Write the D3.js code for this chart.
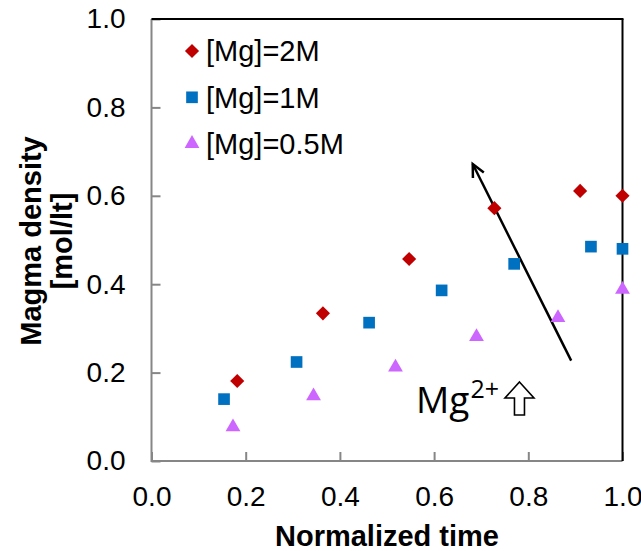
<!DOCTYPE html>
<html>

<head>
    <meta charset="utf-8">
    <style>
        body {
            margin: 0;
            background: #fff;
        }

        svg {
            font-family: Arial, 'Liberation Sans', sans-serif;
        }

        .axis .domain {
            display: none;
        }

        .axis .tick line {
            stroke: #868686;
            stroke-width: 2;
        }

        .axis .tick text {
            font-size: 28px;
            fill: #000;
        }
    </style>
</head>

<body>
    <svg width="641" height="551"></svg>
</body>

<script src="https://d3js.org/d3.v7.min.js"></script>

<script>
    // data
    let tickValues = [0, 0.2, 0.4, 0.6, 0.8, 1.0];

    let seriesNames = ["[Mg]=2M", "[Mg]=1M", "[Mg]=0.5M"];

    let timeMg2 = [0.182, 0.364, 0.547, 0.728, 0.910, 1.0];
    let densMg2 = [0.181, 0.334, 0.457, 0.572, 0.611, 0.600];

    let timeMg1 = [0.154, 0.308, 0.462, 0.616, 0.770, 0.933, 1.0];
    let densMg1 = [0.140, 0.224, 0.313, 0.386, 0.446, 0.485, 0.480];

    let timeMg05 = [0.173, 0.344, 0.518, 0.690, 0.863, 1.0];
    let densMg05 = [0.077, 0.147, 0.212, 0.281, 0.324, 0.388];

    // arrow annotation (in data units)
    let arrowFrom = [0.891, 0.227];
    let arrowTo = [0.682, 0.672];

    let width = 641;
    let height = 551;
    let margin = { top: 19, right: 18.5, bottom: 90, left: 151.5 };

    let svg = d3.select("svg");

    let x = d3.scaleLinear()
        .domain([0, 1])
        .range([margin.left, width - margin.right]);

    let y = d3.scaleLinear()
        .domain([0, 1])
        .range([height - margin.bottom, margin.top]);

    let series = [
        { name: seriesNames[0], xs: timeMg2, ys: densMg2, color: "#C00000", shape: "diamond" },
        { name: seriesNames[1], xs: timeMg1, ys: densMg1, color: "#0070C0", shape: "square" },
        { name: seriesNames[2], xs: timeMg05, ys: densMg05, color: "#CC66FF", shape: "triangle" }
    ];

    function markerPath(shape) {
        if (shape == "diamond") return d3.symbol(d3.symbolSquare, 100)();
        if (shape == "square") return d3.symbol(d3.symbolSquare, 136)();
        return d3.symbol(d3.symbolTriangle, 95)();
    }

    function markerRotate(shape) {
        return shape == "diamond" ? " rotate(45)" : "";
    }

    // axes
    let xAxisSettings = d3.axisBottom(x)
        .tickValues(tickValues)
        .tickSize(-9)
        .tickPadding(25)
        .tickFormat(d3.format(".1f"));

    let yAxisSettings = d3.axisLeft(y)
        .tickValues(tickValues)
        .tickSize(-9)
        .tickPadding(26)
        .tickFormat(d3.format(".1f"));

    svg.append("g")
        .attr("class", "x axis")
        .attr("transform", `translate(0,${height - margin.bottom})`)
        .call(xAxisSettings)
        .selectAll(".tick text")
        .attr("dy", "0.71em");

    svg.append("g")
        .attr("class", "y axis")
        .attr("transform", `translate(${margin.left},0)`)
        .call(yAxisSettings);

    // plot frame: gray left/bottom, black top/right
    svg.append("line")
        .attr("x1", x(0)).attr("x2", x(0))
        .attr("y1", y(0) + 1).attr("y2", y(1))
        .attr("stroke", "#868686").attr("stroke-width", 2);
    svg.append("line")
        .attr("x1", x(0)).attr("x2", x(1))
        .attr("y1", y(0)).attr("y2", y(0))
        .attr("stroke", "#868686").attr("stroke-width", 2);
    svg.append("line")
        .attr("x1", x(0)).attr("x2", x(1) + 1)
        .attr("y1", y(1)).attr("y2", y(1))
        .attr("stroke", "#000").attr("stroke-width", 2);
    svg.append("line")
        .attr("x1", x(1)).attr("x2", x(1))
        .attr("y1", y(1)).attr("y2", y(0))
        .attr("stroke", "#000").attr("stroke-width", 2);

    // arrow
    let arrowHead = 14;
    let ax1 = x(arrowFrom[0]), ay1 = y(arrowFrom[1]);
    let ax2 = x(arrowTo[0]), ay2 = y(arrowTo[1]);
    let ang = Math.atan2(ay2 - ay1, ax2 - ax1);
    svg.append("line")
        .attr("x1", ax1).attr("y1", ay1)
        .attr("x2", ax2).attr("y2", ay2)
        .attr("stroke", "#000").attr("stroke-width", 2.5);
    svg.append("path")
        .attr("d", d3.line()([
            [ax2 - arrowHead * Math.cos(ang - 0.45), ay2 - arrowHead * Math.sin(ang - 0.45)],
            [ax2, ay2],
            [ax2 - arrowHead * Math.cos(ang + 0.45), ay2 - arrowHead * Math.sin(ang + 0.45)]
        ]))
        .attr("fill", "none")
        .attr("stroke", "#000")
        .attr("stroke-width", 2.5);

    // points
    series.forEach(s => {
        svg.append("g")
            .selectAll("path")
            .data(s.xs.map((t, i) => [t, s.ys[i]]))
            .join("path")
            .attr("d", markerPath(s.shape))
            .attr("transform", d => `translate(${x(d[0])},${y(d[1])})` + markerRotate(s.shape))
            .attr("fill", s.color);
    });

    // legend
    let legend = svg.append("g")
        .selectAll("g")
        .data(series)
        .join("g")
        .attr("transform", (d, i) => `translate(192,${51 + i * 46.3})`);

    legend.append("path")
        .attr("d", d => markerPath(d.shape))
        .attr("transform", d => markerRotate(d.shape))
        .attr("fill", d => d.color);

    legend.append("text")
        .attr("x", 14)
        .attr("dy", "0.36em")
        .attr("font-size", "29px")
        .text(d => d.name);

    // Mg2+ label with hollow up arrow
    let mgLabel = svg.append("text")
        .attr("x", 416)
        .attr("y", 413)
        .attr("font-family", "'Open Sans', 'Noto Sans', sans-serif")
        .attr("font-size", "37px");
    mgLabel.append("tspan").text("Mg");
    mgLabel.append("tspan")
        .attr("font-size", "25px")
        .attr("dy", "-15")
        .attr("dx", "1")
        .text("2+");

    let lb = mgLabel.node().getBBox();
    let ux = lb.x + lb.width + 6; // left edge of the hollow arrow
    let uw = 29, uh = 33, stem = 10, headH = 16;
    let utop = 413 - uh + 2;
    svg.append("path")
        .attr("d", d3.line()([
            [ux + uw / 2, utop],
            [ux + uw, utop + headH],
            [ux + uw / 2 + stem / 2, utop + headH],
            [ux + uw / 2 + stem / 2, utop + uh],
            [ux + uw / 2 - stem / 2, utop + uh],
            [ux + uw / 2 - stem / 2, utop + headH],
            [ux, utop + headH]
        ]) + "Z")
        .attr("fill", "#fff")
        .attr("stroke", "#000")
        .attr("stroke-width", 1.6)
        .attr("stroke-linejoin", "miter");

    // axis titles
    svg.append("text")
        .attr("x", (x(0) + x(1)) / 2)
        .attr("y", 546)
        .attr("text-anchor", "middle")
        .attr("font-size", "29px")
        .attr("font-weight", "bold")
        .text("Normalized time");

    let yTitle = svg.append("text")
        .attr("transform", "translate(41,241) rotate(-90)")
        .attr("text-anchor", "middle")
        .attr("font-size", "29px")
        .attr("font-weight", "bold");
    yTitle.append("tspan")
        .attr("x", 0)
        .attr("y", 0)
        .text("Magma density");
    yTitle.append("tspan")
        .attr("x", 0)
        .attr("y", 31)
        .text("[mol/lt]");
</script>

</html>
